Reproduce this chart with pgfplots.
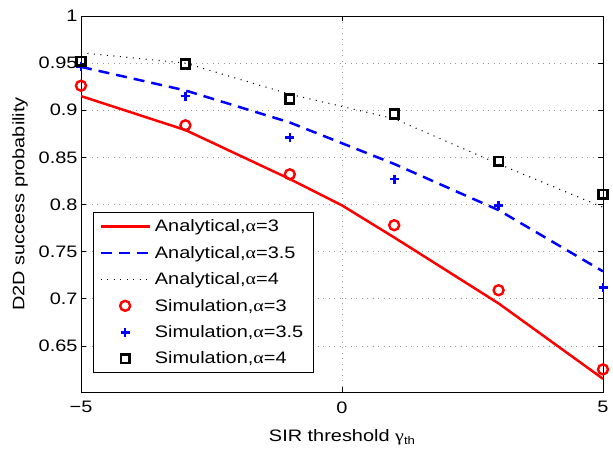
\documentclass[border=0pt]{standalone}
\usepackage{pgfplots}
\pgfplotsset{compat=1.18}
\usepackage{fontspec}
\setmainfont[FakeStretch=1.2]{Liberation Sans}
\newfontfamily\grk[FakeStretch=1.2]{Liberation Serif}
\newcommand{\fs}{\fontsize{16.6bp}{19bp}\selectfont}
\newcommand{\al}{{\grk α}}
\begin{document}
\begin{tikzpicture}
\begin{axis}[
  scale only axis, width=522bp, height=376bp,
  at={(0,0)}, anchor=south west,
  xmin=-5, xmax=5, ymin=0.601, ymax=1,
  xtick={-5,0,5}, xticklabels={−5,0,5},
  ytick={0.65,0.7,0.75,0.8,0.85,0.9,0.95,1},
  yticklabels={0.65,0.7,0.75,0.8,0.85,0.9,0.95,1},
  tick align=inside, major tick length=5bp,
  tick style={black, line width=0.6bp},
  axis line style={black, line width=0.9bp},
  grid=major,
  major grid style={gray!80, line width=0.6bp, dash pattern=on 1bp off 4.5bp},
  tick label style={font=\fs},
  xticklabel style={yshift=-6bp},
  xlabel={SIR threshold {\grk γ}\raisebox{-0.35ex}{\fontsize{11bp}{13bp}\selectfont th}},
  ylabel={D2D success probability},
  every axis x label/.style={at={(axis description cs:0.5,-0.1197)}, anchor=center, font=\fs},
  every axis y label/.style={at={(axis description cs:-0.1169,0.5)}, rotate=90, anchor=center, font=\fs},
  legend cell align=left,
  legend style={at={(axis description cs:0.023,0.0505)}, anchor=south west,
    font=\fs, draw=black, line width=0.8bp, fill=white,
    inner xsep=6bp, inner ysep=3bp, row sep=4.5bp,
    nodes={inner xsep=4bp, inner ysep=4.2bp}},
  legend image code/.code={\draw[mark repeat=2,mark phase=2,#1] plot coordinates {(0bp,0bp) (24.5bp,0bp) (49bp,0bp)};},
]
\addplot[red, line width=2.5bp, no marks] coordinates {
(-5,0.915) (-3,0.879) (-1,0.827) (0,0.799) (1,0.765) (3,0.695) (5,0.615)};
\addlegendentry{Analytical,\al=3}
\addplot[blue, line width=2.5bp, no marks, dash pattern=on 11bp off 7bp] coordinates {
(-5,0.946) (-3,0.921) (-1,0.887) (1,0.843) (3,0.794) (5,0.729)};
\addlegendentry{Analytical,\al=3.5}
\addplot[black, line width=1.1bp, no marks, dash pattern=on 1bp off 5.5bp] coordinates {
(-5,0.961) (-3,0.950) (-1,0.917) (1,0.891) (3,0.843) (5,0.797)};
\addlegendentry{Analytical,\al=4}
\addplot[red, only marks, mark=o, mark size=5bp, line width=2.4bp] coordinates {
(-5,0.926) (-3,0.884) (-1,0.832) (1,0.778) (3,0.709) (5,0.625)};
\addlegendentry{Simulation,\al=3}
\addplot[blue, only marks, mark=+, mark size=4.5bp, line width=2.6bp] coordinates {
(-5,0.946) (-3,0.915) (-1,0.871) (1,0.827) (3,0.799) (5,0.712)};
\addlegendentry{Simulation,\al=3.5}
\addplot[black, only marks, mark=square, mark size=4.3bp, line width=2.6bp] coordinates {
(-5,0.952) (-3,0.949) (-1,0.912) (1,0.896) (3,0.846) (5,0.811)};
\addlegendentry{Simulation,\al=4}
\end{axis}
\pgfresetboundingbox
\path[use as bounding box] (-81bp,-57bp) rectangle (532bp,392bp);
\end{tikzpicture}
\end{document}
